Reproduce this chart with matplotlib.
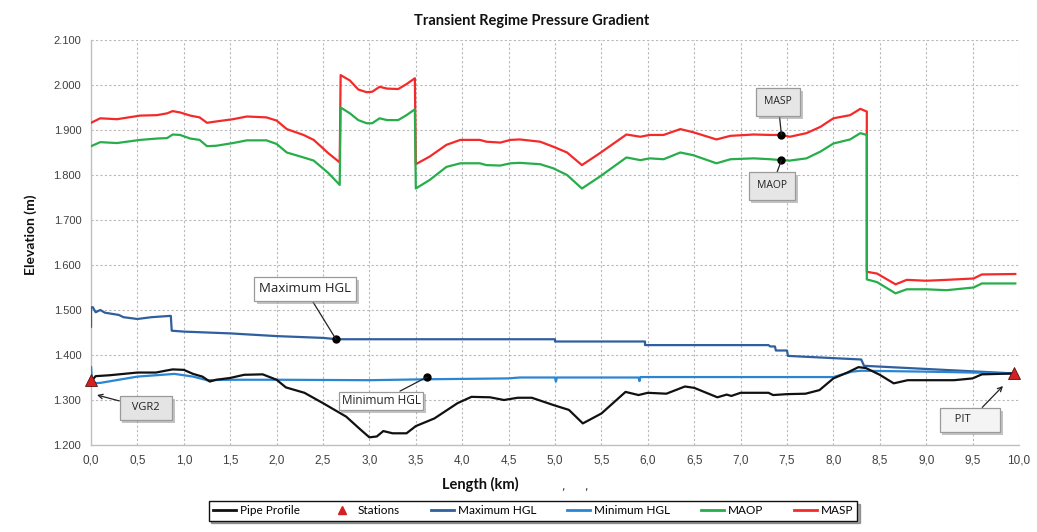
import matplotlib
matplotlib.use("Agg")
import matplotlib.pyplot as plt
import matplotlib.patheffects as pe
from matplotlib.ticker import FuncFormatter, MultipleLocator
from matplotlib.lines import Line2D

# ---- data (km, m) ----
pipe_x = [0.0, 0.05, 0.2, 0.5, 0.7, 0.8, 0.88, 1.0, 1.1, 1.2, 1.28, 1.35, 1.5, 1.65, 1.85,
          2.0, 2.1, 2.3, 2.5, 2.75, 2.9, 3.0, 3.08, 3.15, 3.25, 3.4, 3.5, 3.7, 3.95, 4.1,
          4.3, 4.45, 4.6, 4.75, 4.98, 5.15, 5.3, 5.5, 5.76, 5.9, 6.0, 6.2, 6.4, 6.5, 6.75,
          6.85, 6.9, 7.0, 7.3, 7.35, 7.5, 7.7, 7.85, 8.0, 8.15, 8.27, 8.35, 8.5, 8.65, 8.8,
          9.0, 9.3, 9.5, 9.6, 9.95]
pipe_y = [1.341, 1.353, 1.355, 1.361, 1.361, 1.365, 1.368, 1.367, 1.358, 1.352, 1.341, 1.345,
          1.349, 1.356, 1.357, 1.345, 1.328, 1.316, 1.293, 1.263, 1.235, 1.217, 1.219, 1.231,
          1.226, 1.226, 1.242, 1.259, 1.293, 1.307, 1.306, 1.300, 1.305, 1.305, 1.289, 1.278,
          1.248, 1.270, 1.318, 1.311, 1.316, 1.314, 1.330, 1.327, 1.306, 1.312, 1.309, 1.316,
          1.316, 1.311, 1.313, 1.314, 1.322, 1.348, 1.361, 1.373, 1.371, 1.356, 1.337, 1.344,
          1.344, 1.344, 1.348, 1.357, 1.359]

station_x = [0.0, 9.95]
station_y = [1.344, 1.360]
station_names = ["VGR2", "PIT"]

max_hgl_x = [0.0, 0.0, 0.02, 0.05, 0.1, 0.15, 0.3, 0.35, 0.5, 0.65, 0.86, 0.87, 1.0, 1.5, 2.0,
             2.5, 2.65, 5.0, 5.0, 5.97, 5.97, 7.3, 7.32, 7.37, 7.38, 7.5, 7.51, 8.3, 8.33, 9.95]
max_hgl_y = [1.463, 1.506, 1.506, 1.495, 1.500, 1.494, 1.489, 1.484, 1.480, 1.484, 1.487, 1.454,
             1.452, 1.448, 1.442, 1.438, 1.435, 1.435, 1.430, 1.430, 1.422, 1.422, 1.419, 1.419,
             1.410, 1.410, 1.398, 1.390, 1.376, 1.359]

min_hgl_x = [0.0, 0.0, 0.01, 0.1, 0.5, 0.9, 1.0, 1.1, 1.25, 1.5, 2.0, 3.0, 3.6, 4.5, 4.62,
             5.0, 5.01, 5.02, 5.5, 5.9, 5.91, 5.92, 6.0, 8.0, 8.2, 8.3, 9.0, 9.5, 9.95]
min_hgl_y = [1.337, 1.374, 1.337, 1.338, 1.352, 1.358, 1.355, 1.352, 1.344, 1.345, 1.345, 1.344,
             1.346, 1.348, 1.350, 1.350, 1.341, 1.350, 1.350, 1.350, 1.342, 1.351, 1.351, 1.351,
             1.363, 1.365, 1.363, 1.361, 1.359]

press_x = [0.0, 0.1, 0.28, 0.53, 0.71, 0.82, 0.88, 0.96, 1.07, 1.17, 1.25, 1.35, 1.53, 1.68,
           1.89, 2.0, 2.11, 2.29, 2.40, 2.56, 2.68, 2.69, 2.79, 2.88, 2.97, 3.03, 3.11, 3.19,
           3.31, 3.40, 3.49, 3.50, 3.65, 3.83, 3.98, 4.19, 4.26, 4.41, 4.52, 4.62, 4.84, 4.98,
           5.13, 5.29, 5.48, 5.77, 5.92, 6.02, 6.17, 6.35, 6.49, 6.74, 6.89, 7.14, 7.32, 7.44,
           7.53, 7.71, 7.86, 8.00, 8.18, 8.29, 8.36, 8.36, 8.47, 8.67, 8.79, 9.00, 9.22, 9.51,
           9.60, 9.96]
masp_y = [1.916, 1.926, 1.924, 1.932, 1.933, 1.937, 1.942, 1.939, 1.932, 1.928, 1.916, 1.919,
          1.924, 1.930, 1.928, 1.921, 1.902, 1.889, 1.878, 1.848, 1.828, 2.022, 2.010, 1.990,
          1.984, 1.985, 1.996, 1.992, 1.991, 2.002, 2.015, 1.824, 1.841, 1.867, 1.878, 1.878,
          1.874, 1.872, 1.878, 1.879, 1.874, 1.863, 1.850, 1.822, 1.848, 1.890, 1.885, 1.889,
          1.889, 1.902, 1.895, 1.879, 1.887, 1.890, 1.889, 1.889, 1.885, 1.893, 1.907, 1.926,
          1.933, 1.947, 1.941, 1.585, 1.581, 1.557, 1.567, 1.565, 1.567, 1.570, 1.579, 1.580]
maop_y = [1.864, 1.873, 1.871, 1.878, 1.881, 1.882, 1.890, 1.889, 1.881, 1.878, 1.864, 1.865,
          1.871, 1.877, 1.877, 1.869, 1.850, 1.839, 1.832, 1.804, 1.778, 1.950, 1.937, 1.922,
          1.915, 1.915, 1.926, 1.922, 1.922, 1.933, 1.946, 1.770, 1.789, 1.818, 1.826, 1.826,
          1.822, 1.821, 1.826, 1.827, 1.824, 1.815, 1.800, 1.770, 1.796, 1.839, 1.833, 1.837,
          1.835, 1.850, 1.844, 1.826, 1.835, 1.837, 1.835, 1.833, 1.832, 1.837, 1.852, 1.870,
          1.879, 1.893, 1.889, 1.568, 1.562, 1.537, 1.546, 1.546, 1.544, 1.550, 1.559, 1.559]

# labelled points on the curves
max_hgl_pt = (2.64, 1.435)
min_hgl_pt = (3.62, 1.351)
masp_pt = (7.44, 1.889)
maop_pt = (7.44, 1.833)

x_ticks = [i * 0.5 for i in range(21)]
y_ticks = [1.2 + i * 0.1 for i in range(10)]

# ---- colours ----
C_PIPE = "#111111"
C_MAXH = "#2f5f9e"
C_MINH = "#2a85d3"
C_MAOP = "#27ad4a"
C_MASP = "#f42a2a"
C_STAT = "#d42020"

W, H = 1037, 532
fig = plt.figure(figsize=(W / 100, H / 100), dpi=100)
ax = fig.add_axes([91 / W, 1 - 445 / H, 928 / W, 405 / H])

lw = 1.6
ax.plot(press_x, masp_y, color=C_MASP, lw=lw, zorder=3)
ax.plot(press_x, maop_y, color=C_MAOP, lw=lw, zorder=3)
ax.plot(max_hgl_x, max_hgl_y, color=C_MAXH, lw=lw, zorder=3)
ax.plot(min_hgl_x, min_hgl_y, color=C_MINH, lw=lw, zorder=3)
ax.plot(pipe_x, pipe_y, color=C_PIPE, lw=lw, zorder=4)
ax.plot(station_x, station_y, linestyle="none", marker="^", markersize=8,
        color=C_STAT, markeredgecolor="#5a1010", markeredgewidth=0.6, zorder=6, clip_on=False)

ax.set_xlim(0, 10)
ax.set_ylim(1.2, 2.1)
ax.set_yticks(y_ticks)
ax.set_xticks(x_ticks)
ax.xaxis.set_major_formatter(FuncFormatter(lambda v, p: f"{v:.1f}".replace(".", ",")))
ax.yaxis.set_major_formatter(FuncFormatter(lambda v, p: f"{v:.3f}"))
ax.tick_params(length=0, colors="#404040", labelsize=8)
ax.tick_params(axis="x", pad=7)
ax.tick_params(axis="y", pad=7)
for lbl in ax.get_xticklabels():
    lbl.set_family(["Liberation Sans Narrow", "Liberation Sans"])
    lbl.set_fontsize(8.5)
for lbl in ax.get_yticklabels():
    lbl.set_family(["Liberation Sans", "DejaVu Sans"])

ax.grid(True, color="#b8b8b8", linestyle=(0, (2, 2)), linewidth=0.8)
ax.set_axisbelow(True)
for s in ("top", "right"):
    ax.spines[s].set_visible(False)
for s in ("left", "bottom"):
    ax.spines[s].set_color("#c0c0c0")
    ax.spines[s].set_linewidth(1.0)

ax.set_ylabel("Elevation (m)", fontsize=10, fontweight="bold", family="Lato", color="#111111")
ax.yaxis.set_label_coords(-0.058, 0.52)

fig.text(480 / W, 1 - 484 / H, "Length (km)", ha="center", va="center",
         fontsize=10.5, fontweight="bold", family="Lato", color="#111111")
fig.text(563 / W, 1 - 487 / H, ",", ha="center", va="center", fontsize=8, color="#333333")
fig.text(586 / W, 1 - 487 / H, ",", ha="center", va="center", fontsize=8, color="#333333")

fig.text(532 / W, 1 - 21 / H, "Transient Regime Pressure Gradient", ha="center", va="center",
         fontsize=10.5, fontweight="bold", family="Lato", color="#111111")

# ---- callouts ----
shadow = [pe.withSimplePatchShadow(offset=(2, -2), shadow_rgbFace="#888888", alpha=0.5)]

def callout(text, xy, xytext, fc, arrow="-", dot=True, pad=0.45, fs=8.5, ec="#9a9a9a"):
    if dot:
        ax.plot([xy[0]], [xy[1]], "o", color="black", markersize=5, zorder=7)
    a = ax.annotate(text, xy=xy, xytext=xytext, textcoords="data", ha="center", va="center",
                    fontsize=fs, family="Open Sans", color="#222222", zorder=8,
                    bbox=dict(boxstyle=f"square,pad={pad}", fc=fc, ec=ec, lw=0.9),
                    arrowprops=dict(arrowstyle=arrow, color="#222222", lw=0.9,
                                    shrinkA=0, shrinkB=0))
    a.get_bbox_patch().set_path_effects(shadow)
    return a

def px2data(px, py):
    return ((px - 91) / 92.8, 2.1 - (py - 40) / 450.0)

callout("Maximum HGL", max_hgl_pt, px2data(305, 289), "white", fs=9.5, pad=0.4)
callout("Minimum HGL", min_hgl_pt, px2data(381, 401), "white", fs=8.5, pad=0.25)
callout("MASP", masp_pt, px2data(778, 102), "#e6e6e6", fs=7.5, pad=0.8)
callout("MAOP", maop_pt, px2data(772, 186), "#e6e6e6", fs=7.5, pad=0.8)
callout("  VGR2  ", px2data(97, 395), px2data(146, 408), "#e4e4e4", arrow="->", dot=False,
        fs=8, pad=0.6)
callout("   PIT        ", px2data(1003, 386), px2data(970, 420), "#f4f4f4", arrow="->",
        dot=False, fs=8, pad=0.6)

# ---- legend ----
handles = [
    Line2D([], [], color=C_PIPE, lw=2),
    Line2D([], [], color=C_STAT, marker="^", linestyle="none", markersize=6),
    Line2D([], [], color=C_MAXH, lw=2),
    Line2D([], [], color=C_MINH, lw=2),
    Line2D([], [], color=C_MAOP, lw=2),
    Line2D([], [], color=C_MASP, lw=2),
]
labels = ["Pipe Profile", "Stations", "Maximum HGL", "Minimum HGL", "MAOP", "MASP"]
leg = fig.legend(handles, labels, loc="center", bbox_to_anchor=(533 / W, 1 - 511 / H),
                 ncol=6, frameon=True, fancybox=False, shadow=True,
                 handlelength=2.0, handletextpad=0.3, columnspacing=2.6,
                 borderpad=0.35, borderaxespad=0, prop={"family": "Lato", "size": 8.5})
leg.get_frame().set_edgecolor("#111111")
leg.get_frame().set_linewidth(1.0)

fig.savefig("out.png", dpi=100)
